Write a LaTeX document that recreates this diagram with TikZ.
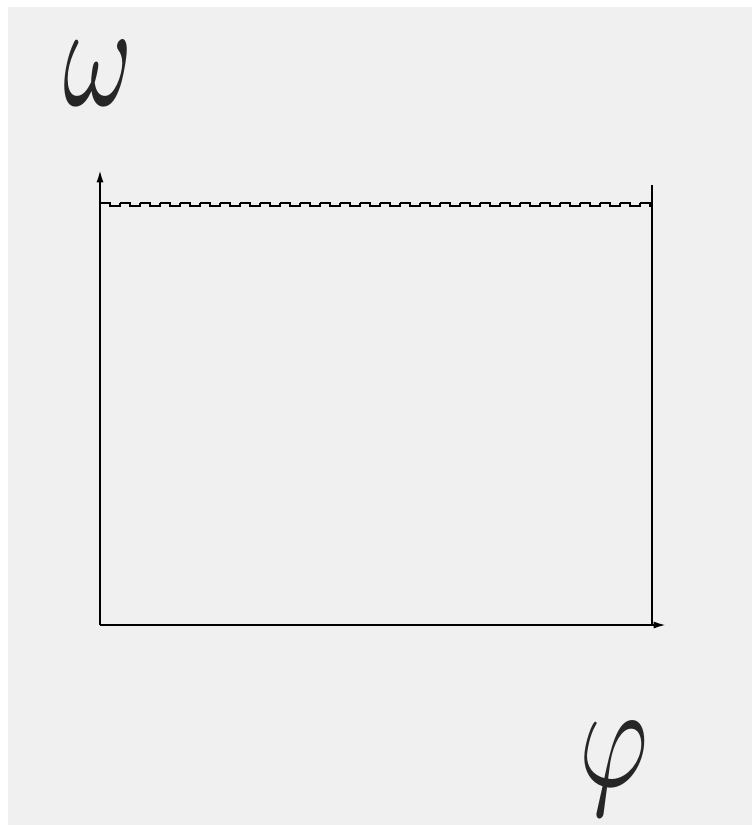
\documentclass[tikz,border=0pt]{standalone}
\usetikzlibrary{arrows.meta}
\definecolor{nen}{HTML}{F0F0F0}
\tikzset{
    truc/.style={line width=1.1pt, -{Latex[length=7pt,width=4pt]}},
    net/.style={line width=1.1pt},
    chu/.style={inner sep=0pt, text=black!85}
}
\begin{document}
\begin{tikzpicture}[x=0.02cm, y=-0.02cm]
    % Khung nen
    \useasboundingbox (0,0) rectangle (752,825);
    \fill[white] (0,0) rectangle (752,825);
    \fill[nen] (8,7) rectangle (752,825);
    % He truc toa do
    \coordinate (O) at (100,625);
    \coordinate (Ox) at (666,625);
    \coordinate (Oy) at (100,170);
    \coordinate (A) at (652,185);
    \coordinate (B) at (652,625);
    \draw[truc] (O) -- (Ox);
    \draw[truc] (O) -- (Oy);
    \draw[net] (A) -- (B);
    % Duong gon song
    \foreach \i in {0,...,26} {
        \draw[net] ({100+20*\i},203) -- ({110+20*\i},203) -- ({110+20*\i},206)
            -- ({120+20*\i},206) -- ({120+20*\i},203);
    }
    \draw[net] (640,203) -- (650,203) -- (650,206) -- (652,206);
    % Nhan truc
    \node[chu, xscale=6, yscale=8.5] (omega) at (98,73) {$\omega$};
    \node[chu, xscale=6, yscale=8.5] (phi) at (614,769) {$\varphi$};
\end{tikzpicture}
\end{document}
